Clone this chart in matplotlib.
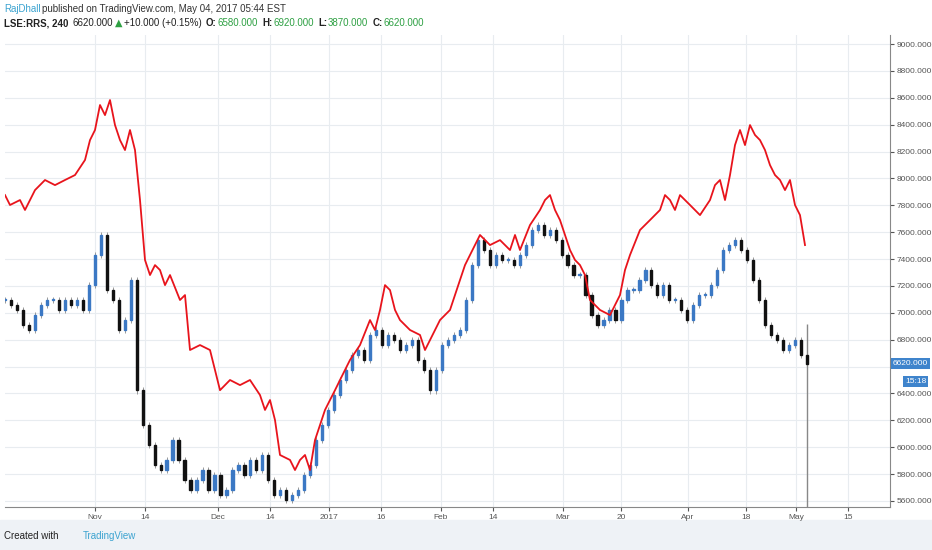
import numpy as np
import matplotlib.pyplot as plt
from matplotlib.patches import Rectangle

plt.rcParams['font.family'] = ['Liberation Sans', 'DejaVu Sans']

# comparison line (red), x in chart bar units
red_x = [5, 10, 20, 25, 35, 45, 55, 65, 75, 85, 90, 95, 100, 105, 110, 115, 120, 125, 130, 135,
         140, 145, 150, 155, 160, 165, 170, 180, 185, 190, 200, 210, 215, 220, 230, 240, 250, 260, 265, 270,
         275, 280, 290, 295, 300, 305, 310, 315, 320, 325, 330, 335, 340, 350, 360, 370, 375, 380, 385, 390,
         395, 400, 410, 420, 425, 430, 440, 450, 460, 465, 470, 480, 490, 500, 510, 515, 520, 530, 540, 545,
         550, 555, 560, 565, 570, 575, 580, 585, 590, 600, 610, 620, 625, 630, 640, 650, 660, 665, 670, 675,
         680, 690, 700, 710, 715, 720, 725, 730, 735, 740, 745, 750, 755, 760, 765, 770, 775, 780, 785, 790,
         795, 800, 805]
red_y = [7876, 7802, 7839, 7765, 7913, 7988, 7950, 7988, 8025, 8137, 8285, 8360, 8546, 8471, 8583, 8397, 8285, 8211, 8360, 8211,
         7839, 7393, 7281, 7355, 7318, 7206, 7281, 7095, 7132, 6723, 6760, 6723, 6574, 6424, 6500, 6462, 6500, 6388, 6277, 6351,
         6202, 5942, 5905, 5830, 5905, 5942, 5830, 6053, 6165, 6277, 6351, 6424, 6500, 6649, 6760, 6946, 6872, 7021, 7206, 7169,
         7021, 6946, 6872, 6835, 6723, 6797, 6946, 7021, 7244, 7355, 7430, 7579, 7504, 7541, 7467, 7579, 7467, 7653, 7765, 7839,
         7876, 7765, 7690, 7579, 7467, 7393, 7355, 7281, 7095, 7021, 6983, 7132, 7318, 7430, 7616, 7690, 7765, 7876, 7839, 7765,
         7876, 7802, 7727, 7839, 7950, 7988, 7839, 8025, 8248, 8360, 8248, 8397, 8323, 8285, 8211, 8099, 8025, 7988, 7913, 7988,
         7802, 7727, 7504]

# LSE:RRS closes
closes = [7095, 7058, 7021, 6909, 6872, 6983, 7058, 7095, 7095, 7021, 7095, 7058, 7095, 7021, 7206, 7430, 7579, 7169, 7095, 6872,
          6946, 7244, 6424, 6165, 6016, 5867, 5830, 5905, 6053, 5905, 5756, 5681, 5756, 5830, 5681, 5793, 5644, 5681, 5830, 5867,
          5793, 5905, 5830, 5942, 5756, 5644, 5681, 5607, 5644, 5681, 5793, 5867, 6053, 6165, 6277, 6388, 6500, 6574, 6686, 6723,
          6649, 6835, 6872, 6760, 6835, 6797, 6723, 6760, 6797, 6649, 6574, 6424, 6574, 6760, 6797, 6835, 6872, 7095, 7355, 7541,
          7467, 7355, 7430, 7393, 7393, 7355, 7430, 7504, 7616, 7653, 7579, 7616, 7541, 7430, 7355, 7281, 7281, 7132, 6983, 6909,
          6946, 7021, 6946, 7095, 7169, 7169, 7244, 7318, 7206, 7132, 7206, 7095, 7095, 7021, 6946, 7058, 7132, 7132, 7206, 7318,
          7467, 7504, 7541, 7467, 7393, 7244, 7095, 6909, 6835, 6797, 6723, 6760, 6797, 6686, 6620]
last_high, last_low = 6920, 3870

tick_pos = [95, 145, 218, 270, 329, 381, 441, 493, 563, 621, 688, 746, 796, 848]
tick_lab = ['Nov', '14', 'Dec', '14', '2017', '16', 'Feb', '14', 'Mar', '20', 'Apr', '18', 'May', '15']
yticks = np.arange(5600, 9001, 200)

W, H = 932, 550
fig = plt.figure(figsize=(W / 100, H / 100), dpi=100)
fig.patch.set_facecolor('white')
fig.add_artist(Rectangle((0, 0), 1, 30 / H, transform=fig.transFigure, color='#eef2f6', zorder=0))
ax = fig.add_axes([5 / W, (H - 507) / H, 885 / W, 472 / H])
ax.set_xlim(5, 890)
ax.set_ylim(5555, 9067)

n = len(closes)
xs = np.linspace(5, 807, n)
opens = [closes[0]] + closes[:-1]
for i in range(n):
    o, c = opens[i], closes[i]
    col = '#3b78c4' if c >= o else '#111111'
    lo, hi = min(o, c), max(o, c)
    ax.vlines(xs[i], lo - 25, hi + 25, color='#999999', lw=0.7, zorder=2)
    ax.add_patch(Rectangle((xs[i] - 1.1, lo), 2.2, max(hi - lo, 8), color=col, zorder=3))
ax.vlines(xs[-1], last_low, last_high, color='#888888', lw=1, zorder=2)

ax.plot(red_x, red_y, color='#e8141c', lw=1.3, zorder=4)

ax.set_xticks(tick_pos)
ax.set_xticklabels(tick_lab)
ax.set_yticks(yticks)
# the 6600 label sits under the last-price box
ax.set_yticklabels(['' if v == 6600 else '%.3f' % v for v in yticks])
ax.yaxis.tick_right()
ax.grid(color='#e8ecf0', lw=0.8)
ax.set_axisbelow(True)
ax.tick_params(labelsize=6, colors='#555555', length=3, pad=2)
for s in ax.spines.values():
    s.set_color('#888888')
ax.spines['top'].set_visible(False)
ax.spines['left'].set_visible(False)

ax.text(1.003, 6620, '6620.000', transform=ax.get_yaxis_transform(), fontsize=6, color='white',
        va='center', ha='left', bbox=dict(boxstyle='square,pad=0.25', fc='#3f84cc', ec='none'))
ax.text(1.017, 6490, '15:18', transform=ax.get_yaxis_transform(), fontsize=6, color='white',
        va='center', ha='left', bbox=dict(boxstyle='square,pad=0.25', fc='#3f84cc', ec='none'))

renderer = fig.canvas.get_renderer()


def text_row(x_px, y_px, pieces, fs=7):
    # place pieces one after another, measuring each
    x = x_px
    for s, col, bold, gap in pieces:
        fam = 'DejaVu Sans' if s == '\u25b2' else None
        t = fig.text(x / W, 1 - y_px / H, s, color=col, fontsize=fs, va='center',
                     weight='bold' if bold else 'normal', family=fam)
        x += t.get_window_extent(renderer).width + gap


dark, green, blue = '#222222', '#2ea043', '#3ba3d0'
text_row(4, 9, [('RajDhall', blue, False, 2),
                ('published on TradingView.com, May 04, 2017 05:44 EST', '#333333', False, 0)])
text_row(4, 23, [('LSE:RRS, 240', dark, True, 4), ('6620.000', dark, False, 2), ('\u25b2', green, False, 2),
                 ('+10.000 (+0.15%)', dark, False, 4),
                 ('O:', dark, True, 1), ('6580.000', green, False, 4),
                 ('H:', dark, True, 1), ('6920.000', green, False, 4),
                 ('L:', dark, True, 1), ('3870.000', green, False, 4),
                 ('C:', dark, True, 1), ('6620.000', green, False, 0)])
text_row(4, 536, [('Created with', dark, False, 24), ('TradingView', blue, False, 0)])

fig.savefig('out.png', dpi=100)
